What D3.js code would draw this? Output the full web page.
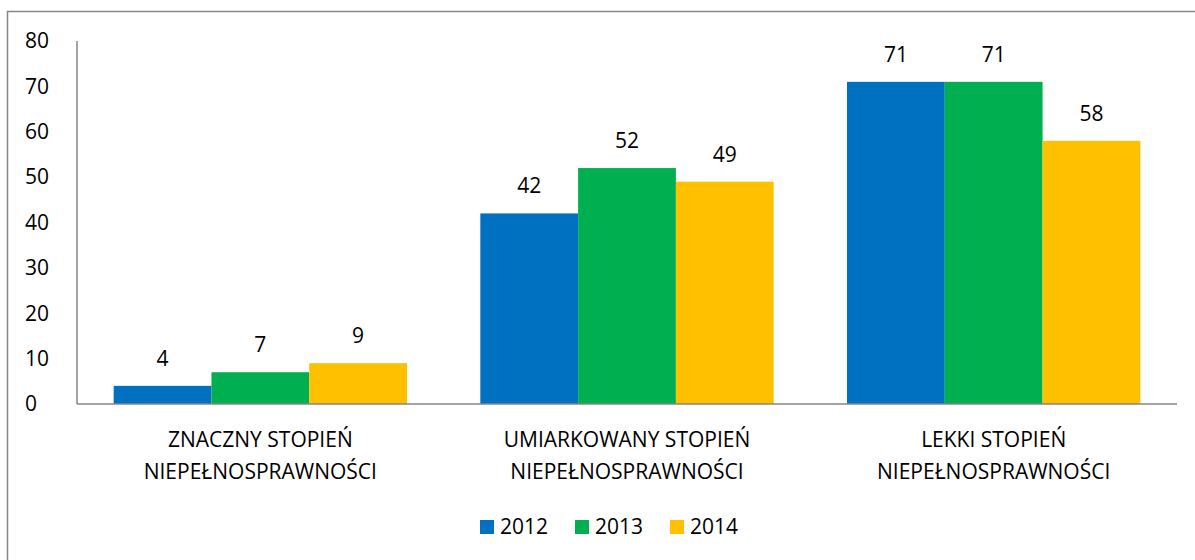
<!DOCTYPE html>
<html>
<head>
<meta charset="utf-8">
<script src="https://cdn.jsdelivr.net/npm/d3@7"></script>
<style>
  body { margin: 0; background: #fff; }
  text { font-family: "Open Sans", "Noto Sans", sans-serif; fill: #000; }
</style>
</head>
<body>
<div id="viz"></div>
<script>
// chart data
const categories = [
  ["ZNACZNY STOPIEŃ", "NIEPEŁNOSPRAWNOŚCI"],
  ["UMIARKOWANY STOPIEŃ", "NIEPEŁNOSPRAWNOŚCI"],
  ["LEKKI STOPIEŃ", "NIEPEŁNOSPRAWNOŚCI"]
];
const years = ["2012", "2013", "2014"];
const values2012 = [4, 42, 71];
const values2013 = [7, 52, 71];
const values2014 = [9, 49, 58];
const yTicks = [0, 10, 20, 30, 40, 50, 60, 70, 80];
const seriesColors = ["#0070c0", "#00b050", "#ffc000"];

const series = [values2012, values2013, values2014];

const width = 1195;
const height = 560;
const margin = {left: 77, top: 41, right: 18, bottom: 156};
const g_width = width - margin.left - margin.right;
const g_height = height - margin.top - margin.bottom;
const fs = 21;

const svg = d3.select("#viz")
  .append("svg")
  .attr("width", width)
  .attr("height", height);

// outer frame
svg.append("rect")
  .attr("x", 7.5).attr("y", 11.5)
  .attr("width", width).attr("height", height)
  .attr("fill", "none")
  .attr("stroke", "#868686")
  .attr("stroke-width", 1.5);

const g = svg.append("g")
  .attr("transform", "translate(" + margin.left + "," + margin.top + ")");

const x0 = d3.scaleBand().domain(d3.range(categories.length)).range([0, g_width]).paddingInner(0.2).paddingOuter(0.1);
const x1 = d3.scaleBand().domain(years).range([0, x0.bandwidth()]);
const y = d3.scaleLinear().domain([0, 80]).range([g_height, 0]);

// y tick labels (left aligned)
g.selectAll(".ytick")
  .data(yTicks)
  .enter().append("text")
  .attr("x", 25 - margin.left)
  .attr("y", d => y(d))
  .attr("dy", "0.35em")
  .attr("font-size", fs)
  .text(d => d);

// bars
categories.forEach(function(cat, i) {
  const grp = g.append("g").attr("transform", "translate(" + x0(i) + ",0)");
  years.forEach(function(yr, j) {
    const v = series[j][i];
    grp.append("rect")
      .attr("x", x1(yr))
      .attr("y", y(v))
      .attr("width", x1.bandwidth())
      .attr("height", g_height - y(v))
      .attr("fill", seriesColors[j]);
    grp.append("text")
      .attr("x", x1(yr) + x1.bandwidth() / 2)
      .attr("y", y(v) - 20)
      .attr("text-anchor", "middle")
      .attr("font-size", fs)
      .text(v);
  });
  // category label
  cat.forEach(function(line, k) {
    g.append("text")
      .attr("x", x0(i) + x0.bandwidth() / 2)
      .attr("y", g_height + 43 + k * 32)
      .attr("text-anchor", "middle")
      .attr("font-size", fs)
      .text(line);
  });
});

// axis lines
g.append("line")
  .attr("x1", 0).attr("x2", 0)
  .attr("y1", 0).attr("y2", g_height)
  .attr("stroke", "#868686").attr("stroke-width", 1.5);
g.append("line")
  .attr("x1", 0).attr("x2", g_width)
  .attr("y1", g_height).attr("y2", g_height)
  .attr("stroke", "#868686").attr("stroke-width", 1.5);

// legend
const legend = svg.append("g").attr("transform", "translate(480,520)");
years.forEach(function(yr, j) {
  const lg = legend.append("g").attr("transform", "translate(" + (j * 95) + ",0)");
  lg.append("rect").attr("width", 14).attr("height", 14).attr("fill", seriesColors[j]);
  lg.append("text").attr("x", 20).attr("y", 7).attr("dy", "0.35em").attr("font-size", fs).text(yr);
});
</script>
</body>
</html>
